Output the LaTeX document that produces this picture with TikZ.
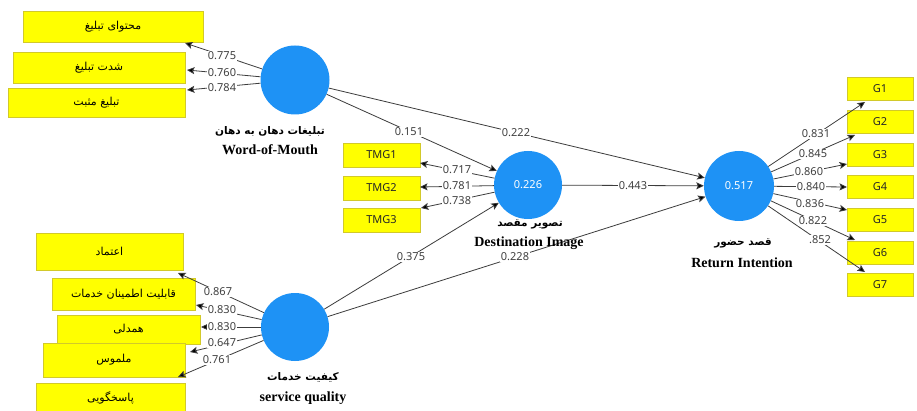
\documentclass[tikz,border=0pt]{standalone}
\usepackage{fontspec}
\setmainfont{Liberation Serif}
\setsansfont{Noto Sans}
\newfontfamily\farsi[Script=Arabic]{DejaVu Sans}
\TeXXeTstate=1
\usetikzlibrary{arrows.meta}
\definecolor{lvblue}{RGB}{30,146,245}
\definecolor{mvyellow}{RGB}{255,255,0}
\definecolor{pathgray}{RGB}{60,60,60}
\tikzset{
    latent/.style = {circle, fill=lvblue, inner sep=0pt, minimum size=70pt, text=white, font=\sffamily\fontsize{11}{13}\selectfont},
    indic/.style = {rectangle, fill=mvyellow, draw=yellow!80!black, line width=0.3pt, inner sep=0pt, text=black!85, font=\sffamily\fontsize{11}{13}\selectfont},
    indicfa/.style = {indic, text=black, font=\farsi\fontsize{11}{13}\selectfont},
    lbl/.style = {fill=white, inner sep=0.8pt, text=black!75, font=\sffamily\fontsize{11}{13}\selectfont},
    namefa/.style = {inner sep=0pt, text=black, font=\farsi\bfseries\fontsize{10.5}{13}\selectfont},
    nameen/.style = {inner sep=0pt, text=black, font=\bfseries\fontsize{14}{16}\selectfont},
    pathln/.style = {-{Stealth[length=7.5pt,width=7pt,inset=1.5pt,fill=black]}, line width=0.8pt, draw=pathgray},
}

\begin{document}
\begin{tikzpicture}[x=1pt,y=-1pt]
\fill[white] (0,0) rectangle (917,411);
\useasboundingbox (0,0) rectangle (917,411);

% indicator boxes, word of mouth
\node[indicfa, minimum width=180pt, minimum height=31pt] at (113,26.5) (w1) {\beginR محتوای تبلیغ\endR};
\node[indicfa, minimum width=172pt, minimum height=31pt] at (99,67.5) (w2) {\beginR شدت تبلیغ\endR};
\node[indicfa, minimum width=177pt, minimum height=29pt] at (96.5,102.5) (w3) {\beginR تبلیغ مثبت\endR};

% indicator boxes, service quality
\node[indicfa, minimum width=147pt, minimum height=37pt] at (109.5,251.5) (s1) {\beginR اعتماد\endR};
\node[indicfa, minimum width=143pt, minimum height=32pt] at (123.5,294) (s2) {\beginR قابلیت اطمینان خدمات\endR};
\node[indicfa, minimum width=143pt, minimum height=29pt] at (128.5,329.5) (s3) {\beginR همدلی\endR};
\node[indicfa, minimum width=142pt, minimum height=34pt] at (114,360) (s4) {\beginR ملموس\endR};
\node[indicfa, minimum width=149pt, minimum height=29pt] at (110.5,398) (s5) {\beginR پاسخگویی\endR};

% indicator boxes, destination image
\node[indic, minimum width=77pt, minimum height=24pt] at (381.5,155) (t1) {TMG1};
\node[indic, minimum width=77pt, minimum height=24pt] at (381.5,188) (t2) {TMG2};
\node[indic, minimum width=77pt, minimum height=24pt] at (381.5,220) (t3) {TMG3};

% indicator boxes, return intention
\node[indic, minimum width=66pt, minimum height=23pt] at (880,89) (g1) {G1};
\node[indic, minimum width=66pt, minimum height=23pt] at (880,121.5) (g2) {G2};
\node[indic, minimum width=66pt, minimum height=23pt] at (880,154.5) (g3) {G3};
\node[indic, minimum width=66pt, minimum height=23pt] at (880,187) (g4) {G4};
\node[indic, minimum width=66pt, minimum height=23pt] at (880,220) (g5) {G5};
\node[indic, minimum width=66pt, minimum height=23pt] at (880,253) (g6) {G6};
\node[indic, minimum width=66pt, minimum height=23pt] at (880,285) (g7) {G7};

% latent variables
\node[latent, minimum size=69pt] at (295,80) (wom) {};
\node[latent, minimum size=68pt] at (295,327) (sq) {};
\node[latent, minimum size=68pt] at (528,185) (di) {0.226};
\node[latent] at (739,186) (ri) {0.517};

% arrow ends
\coordinate (w1t) at (185,43);
\coordinate (w2t) at (187,70);
\coordinate (w3t) at (187,90);
\coordinate (s1t) at (178,273);
\coordinate (s2t) at (196,305);
\coordinate (s3t) at (201,327);
\coordinate (s4t) at (190,352);
\coordinate (s5t) at (178,377);
\coordinate (t1t) at (420,163);
\coordinate (t2t) at (420,187);
\coordinate (t3t) at (421,208);
\coordinate (g1t) at (865,102);
\coordinate (g2t) at (855,135);
\coordinate (g3t) at (847,164);
\coordinate (g4t) at (847,187);
\coordinate (g5t) at (847,210);
\coordinate (g6t) at (855,240);
\coordinate (g7t) at (865,272);

% outer loadings
\draw[pathln] (wom) -- (w1t);
\draw[pathln] (wom) -- (w2t);
\draw[pathln] (wom) -- (w3t);
\draw[pathln] (sq) -- (s1t);
\draw[pathln] (sq) -- (s2t);
\draw[pathln] (sq) -- (s3t);
\draw[pathln] (sq) -- (s4t);
\draw[pathln] (sq) -- (s5t);
\draw[pathln] (di) -- (t1t);
\draw[pathln] (di) -- (t2t);
\draw[pathln] (di) -- (t3t);
\draw[pathln] (ri) -- (g1t);
\draw[pathln] (ri) -- (g2t);
\draw[pathln] (ri) -- (g3t);
\draw[pathln] (ri) -- (g4t);
\draw[pathln] (ri) -- (g5t);
\draw[pathln] (ri) -- (g6t);
\draw[pathln] (ri) -- (g7t);

% inner paths
\draw[pathln] (wom) -- (di);
\draw[pathln] (wom) -- (ri);
\draw[pathln] (sq) -- (di);
\draw[pathln] (sq) -- (ri);
\draw[pathln] (di) -- (ri);

% coefficients
\node[lbl] at (222,56) (lw1) {0.775};
\node[lbl] at (222,73) (lw2) {0.760};
\node[lbl] at (222,88) (lw3) {0.784};
\node[lbl] at (218,292) (ls1) {0.867};
\node[lbl] at (222,310) (ls2) {0.830};
\node[lbl] at (222,327) (ls3) {0.830};
\node[lbl] at (222,343) (ls4) {0.647};
\node[lbl] at (217,360) (ls5) {0.761};
\node[lbl] at (457,170) (lt1) {0.717};
\node[lbl] at (457,186) (lt2) {0.781};
\node[lbl] at (457,201) (lt3) {0.738};
\node[lbl] at (816,134) (lg1) {0.831};
\node[lbl] at (813,154) (lg2) {0.845};
\node[lbl] at (809,172) (lg3) {0.860};
\node[lbl] at (811,187) (lg4) {0.840};
\node[lbl] at (810,204) (lg5) {0.836};
\node[lbl] at (813,221) (lg6) {0.822};
\node[lbl] at (820,240) (lg7) {.852};
\node[lbl] at (409,132) (lwd) {0.151};
\node[lbl] at (516,133) (lwr) {0.222};
\node[lbl] at (411,257) (lsd) {0.375};
\node[lbl] at (515,257) (lsr) {0.228};
\node[lbl] at (633,186) (ldr) {0.443};

% construct names
\node[namefa] at (270,131) (womfa) {\beginR تبلیغات دهان به دهان\endR};
\node[nameen] at (270,150) (women) {Word-of-Mouth};
\node[namefa] at (303,377) (sqfa) {\beginR کیفیت خدمات\endR};
\node[nameen] at (303,398) (sqen) {service quality};
\node[namefa] at (530,224) (difa) {\beginR تصویر مقصد\endR};
\node[nameen] at (529,243) (dien) {Destination Image};
\node[namefa] at (743,243) (rifa) {\beginR قصد حضور\endR};
\node[nameen] at (742,263) (rien) {Return Intention};

\end{tikzpicture}
\end{document}
